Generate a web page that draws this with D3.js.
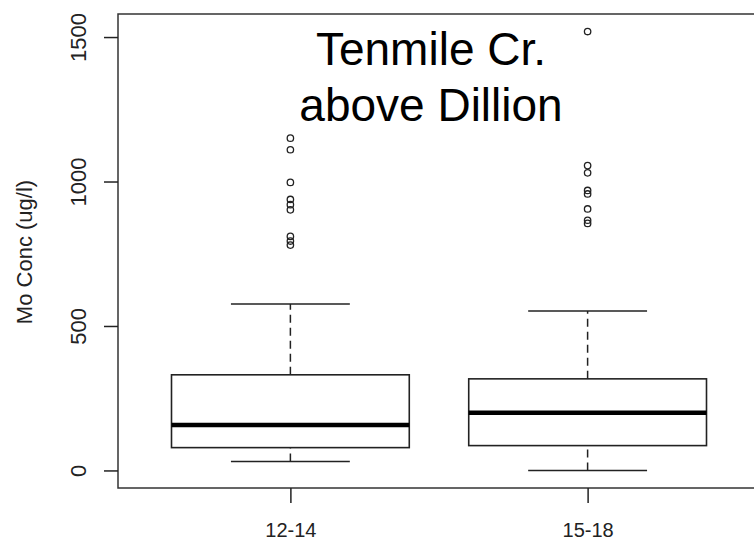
<!DOCTYPE html>
<html>
<head>
<meta charset="utf-8">
<script src="https://cdn.jsdelivr.net/npm/d3@7"></script>
<style>
  body { margin: 0; background: #fff; }
  svg { display: block; font-family: "Liberation Sans", Arial, sans-serif; }
</style>
</head>
<body>
<div id="chart"></div>
<script>
const groups = ["12-14", "15-18"];
const whiskerLow = [31, 0];
const q1 = [79, 86];
const median = [157, 200];
const q3 = [331, 317];
const whiskerHigh = [576, 552];
const outliers = [
  [1150, 1110, 997, 938, 920, 902, 810, 794, 780],
  [1519, 1055, 1030, 969, 957, 905, 866, 855]
];
const yTicks = [0, 500, 1000, 1500];
const titleLines = ["Tenmile Cr.", "above Dillion"];

const width = 754, height = 542;
const plot = {left: 118, top: 14, right: 760, bottom: 488};

const svg = d3.select("#chart")
  .append("svg")
  .attr("width", width)
  .attr("height", height);

// R style ranges: 4% padding on each side
const allVals = whiskerLow.concat(whiskerHigh, outliers.flat());
const lo = d3.min(allVals), hi = d3.max(allVals);
const pad = (hi - lo) * 0.04;

const y = d3.scaleLinear()
  .domain([lo - pad, hi + pad])
  .range([plot.bottom, plot.top]);

const x = d3.scaleLinear()
  .domain([0.42, groups.length + 0.58])
  .range([plot.left, plot.right]);

const boxW = x(0.8) - x(0);
const capW = x(0.4) - x(0);

const data = groups.map((g, i) => ({
  name: g, pos: i + 1,
  lo: whiskerLow[i], q1: q1[i], med: median[i], q3: q3[i], hi: whiskerHigh[i],
  out: outliers[i]
}));

const box = svg.selectAll("g.box")
  .data(data)
  .join("g")
  .attr("class", "box");

// whiskers
box.append("line")
  .attr("x1", d => x(d.pos)).attr("x2", d => x(d.pos))
  .attr("y1", d => y(d.q3)).attr("y2", d => y(d.hi))
  .attr("stroke", "#222").attr("stroke-width", 1.5)
  .attr("stroke-dasharray", "8,5");
box.append("line")
  .attr("x1", d => x(d.pos)).attr("x2", d => x(d.pos))
  .attr("y1", d => y(d.lo)).attr("y2", d => y(d.q1))
  .attr("stroke", "#222").attr("stroke-width", 1.5)
  .attr("stroke-dasharray", "8,5");

// caps
["lo", "hi"].forEach(k => {
  box.append("line")
    .attr("x1", d => x(d.pos) - capW / 2).attr("x2", d => x(d.pos) + capW / 2)
    .attr("y1", d => y(d[k])).attr("y2", d => y(d[k]))
    .attr("stroke", "#222").attr("stroke-width", 1.5);
});

box.append("rect")
  .attr("x", d => x(d.pos) - boxW / 2)
  .attr("width", boxW)
  .attr("y", d => y(d.q3))
  .attr("height", d => y(d.q1) - y(d.q3))
  .attr("fill", "#fff")
  .attr("stroke", "#222").attr("stroke-width", 1.6);

box.append("line")
  .attr("x1", d => x(d.pos) - boxW / 2).attr("x2", d => x(d.pos) + boxW / 2)
  .attr("y1", d => y(d.med)).attr("y2", d => y(d.med))
  .attr("stroke", "#000").attr("stroke-width", 4.5);

box.selectAll("circle")
  .data(d => d.out.map(v => ({pos: d.pos, v})))
  .join("circle")
  .attr("cx", d => x(d.pos))
  .attr("cy", d => y(d.v))
  .attr("r", 3.2)
  .attr("fill", "none")
  .attr("stroke", "#222").attr("stroke-width", 1.3);

// frame
svg.append("rect")
  .attr("x", plot.left).attr("y", plot.top)
  .attr("width", plot.right - plot.left)
  .attr("height", plot.bottom - plot.top)
  .attr("fill", "none")
  .attr("stroke", "#333").attr("stroke-width", 1.5);

// y axis
const yAxis = svg.append("g")
  .attr("transform", `translate(${plot.left},0)`)
  .call(d3.axisLeft(y).tickValues(yTicks).tickSize(14).tickFormat(d3.format("d")));
yAxis.select(".domain").remove();
yAxis.selectAll(".tick line").attr("stroke", "#222").attr("stroke-width", 1.5);
yAxis.selectAll(".tick text")
  .attr("x", null).attr("dy", null)
  .attr("transform", "translate(-40,0) rotate(-90)")
  .attr("text-anchor", "middle")
  .attr("dy", "0.35em")
  .style("font-size", "22px")
  .style("fill", "#222");

// x axis
const xAxis = svg.append("g")
  .attr("transform", `translate(0,${plot.bottom})`)
  .call(d3.axisBottom(x).tickValues(data.map(d => d.pos)).tickSize(15)
    .tickFormat((d, i) => groups[i]));
xAxis.select(".domain").remove();
xAxis.selectAll(".tick line").attr("stroke", "#222").attr("stroke-width", 1.5);
xAxis.selectAll(".tick text")
  .attr("y", 49).attr("dy", null)
  .style("font-size", "20px")
  .style("fill", "#222");

svg.append("text")
  .attr("transform", "translate(32,252) rotate(-90)")
  .attr("text-anchor", "middle")
  .style("font-size", "22px")
  .style("fill", "#222")
  .text("Mo Conc (ug/l)");

svg.selectAll("text.title")
  .data(titleLines)
  .join("text")
  .attr("class", "title")
  .attr("x", 431)
  .attr("y", (d, i) => 65 + i * 56)
  .attr("text-anchor", "middle")
  .style("font-size", "46px")
  .style("fill", "#000")
  .text(d => d);
</script>
</body>
</html>
